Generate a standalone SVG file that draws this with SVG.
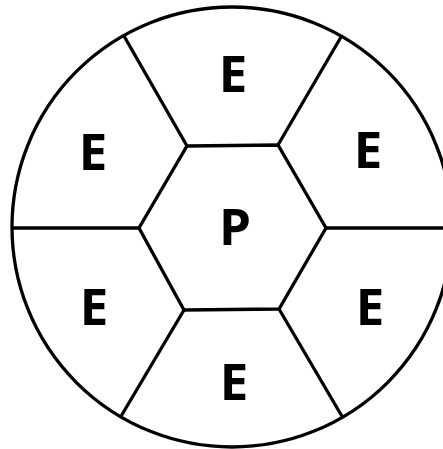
<svg xmlns="http://www.w3.org/2000/svg" width="443" height="449" viewBox="0 0 443 449">
<style>
.ln{fill:none;stroke:#000;stroke-width:3.3;stroke-linejoin:miter}
.lb{font-family:"Open Sans","Liberation Sans",sans-serif;font-weight:700;font-size:51px;fill:#000;text-anchor:middle}
</style>
<rect width="443" height="449" fill="#fff"/>
<g id="outline">
<circle class="ln" cx="232" cy="227" r="220"/>
</g>
<g id="hexagon">
<polygon class="ln" points="187,146 278,145 326,228 279,309 184,310 139,228"/>
<text class="lb" x="235" y="245">P</text>
</g>
<g id="connectors">
<line class="ln" x1="187" y1="146" x2="124" y2="36"/>
<line class="ln" x1="278" y1="145" x2="341" y2="37"/>
<line class="ln" x1="326" y1="228" x2="443" y2="228"/>
<line class="ln" x1="279" y1="309" x2="343" y2="418"/>
<line class="ln" x1="184" y1="310" x2="120" y2="418"/>
<line class="ln" x1="139" y1="228" x2="12" y2="228"/>
</g>
<g id="e-top"><text class="lb" x="233" y="92">E</text></g>
<g id="e-top-right"><text class="lb" x="368" y="168">E</text></g>
<g id="e-bottom-right"><text class="lb" x="370" y="325">E</text></g>
<g id="e-bottom"><text class="lb" x="234" y="400">E</text></g>
<g id="e-bottom-left"><text class="lb" x="94" y="325">E</text></g>
<g id="e-top-left"><text class="lb" x="93" y="170">E</text></g>
</svg>
